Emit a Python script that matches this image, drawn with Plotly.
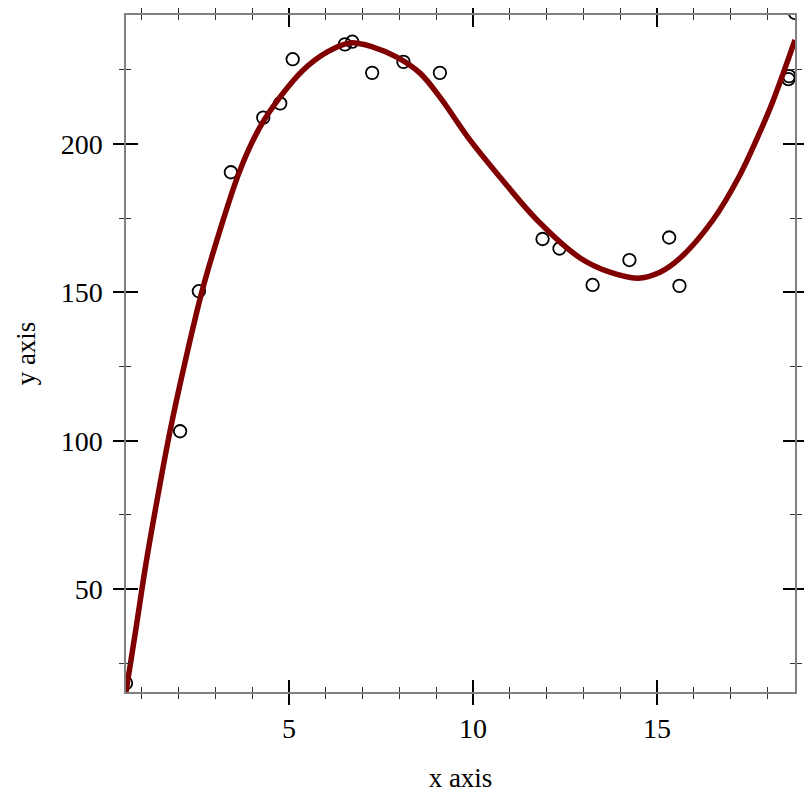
import plotly.graph_objects as go

# observed data points
pts_x = [0.57, 2.04, 2.55, 3.42, 4.30, 4.76, 5.10, 6.52, 6.72, 7.26, 8.11, 9.10,
         11.89, 12.35, 13.25, 14.25, 15.33, 15.61, 18.57, 18.59, 18.75]
pts_y = [18.3, 103.2, 150.4, 190.5, 208.9, 213.7, 228.6, 233.6, 234.5, 224.0, 227.7, 224.0,
         168.0, 164.8, 152.5, 160.9, 168.5, 152.2, 221.9, 222.9, 244.2]

# fitted curve
fit_x = [0.57, 0.842, 1.114, 1.44, 1.766, 2.174, 2.636, 3.125, 3.668, 4.21, 4.755, 5.38, 6.03,
         6.66, 7.28, 7.93, 8.56, 9.10, 9.92, 10.73, 11.74, 12.91, 13.72, 14.48, 15.08, 15.63,
         16.52, 17.25, 17.72, 18.16, 18.75]
fit_y = [15.3, 36.8, 58.7, 81.7, 103.2, 126.5, 150.4, 171.0, 191.2, 205.7, 215.8, 224.9, 231.0,
         234.1, 232.7, 229.3, 223.9, 215.8, 201.3, 188.9, 174.4, 161.6, 156.8, 154.8, 156.8,
         161.6, 174.4, 189.5, 201.9, 214.8, 235.1]

x_range = [0.57, 18.75]
y_range = [15.3, 243.5]
x_ticks = [5, 10, 15]
y_ticks = [50, 100, 150, 200]

FONT = "Liberation Serif"
AXIS_COLOR = "#808080"

fig = go.Figure()
fig.add_trace(go.Scatter(
    x=pts_x, y=pts_y, mode="markers",
    marker=dict(symbol="circle-open", size=12.5, color="black", line=dict(width=1.8, color="black")),
    xaxis="x", yaxis="y", showlegend=False, hoverinfo="skip"))
fig.add_trace(go.Scatter(
    x=fit_x, y=fit_y, mode="lines",
    line=dict(color="#800000", width=5.5, shape="spline", smoothing=1.0),
    xaxis="x2", yaxis="y2", showlegend=False, hoverinfo="skip"))

common = dict(showgrid=False, zeroline=False, showline=True, linecolor=AXIS_COLOR,
              linewidth=1.5, mirror="ticks", tickcolor="black", tickwidth=1.8,
              automargin=False)

fig.update_layout(
    width=804, height=804,
    margin=dict(l=118, r=17, t=7, b=120),
    paper_bgcolor="white", plot_bgcolor="white",
    font=dict(family=FONT, size=28, color="black"),
    xaxis=dict(range=x_range, tickvals=x_ticks, ticks="outside", ticklen=11,
               title=dict(text="x axis", standoff=25, font=dict(family=FONT, size=27)),
               tickfont=dict(family=FONT, size=28),
               minor=dict(dtick=1, tick0=0, ticks="outside", ticklen=5, tickcolor="#333333",
                          tickwidth=1, showgrid=False),
               **common),
    yaxis=dict(range=y_range, tickvals=y_ticks, ticks="outside", ticklen=11,
               ticklabelstandoff=5,
               title=dict(text="y axis", standoff=17, font=dict(family=FONT, size=27)),
               tickfont=dict(family=FONT, size=28),
               minor=dict(dtick=25, tick0=0, ticks="outside", ticklen=5, tickcolor="#333333",
                          tickwidth=1, showgrid=False),
               **common),
    xaxis2=dict(overlaying="x", matches="x", anchor="y2", side="bottom", range=x_range,
                tickvals=x_ticks, ticks="inside", ticklen=12, showticklabels=False,
                minor=dict(dtick=1, tick0=0, ticks="inside", ticklen=5, tickcolor="#333333",
                           tickwidth=1, showgrid=False),
                **common),
    yaxis2=dict(overlaying="y", matches="y", anchor="x2", side="left", range=y_range,
                tickvals=y_ticks, ticks="inside", ticklen=12, showticklabels=False,
                minor=dict(dtick=25, tick0=0, ticks="inside", ticklen=5, tickcolor="#333333",
                           tickwidth=1, showgrid=False),
                **common),
)

fig.write_html("out.html")
